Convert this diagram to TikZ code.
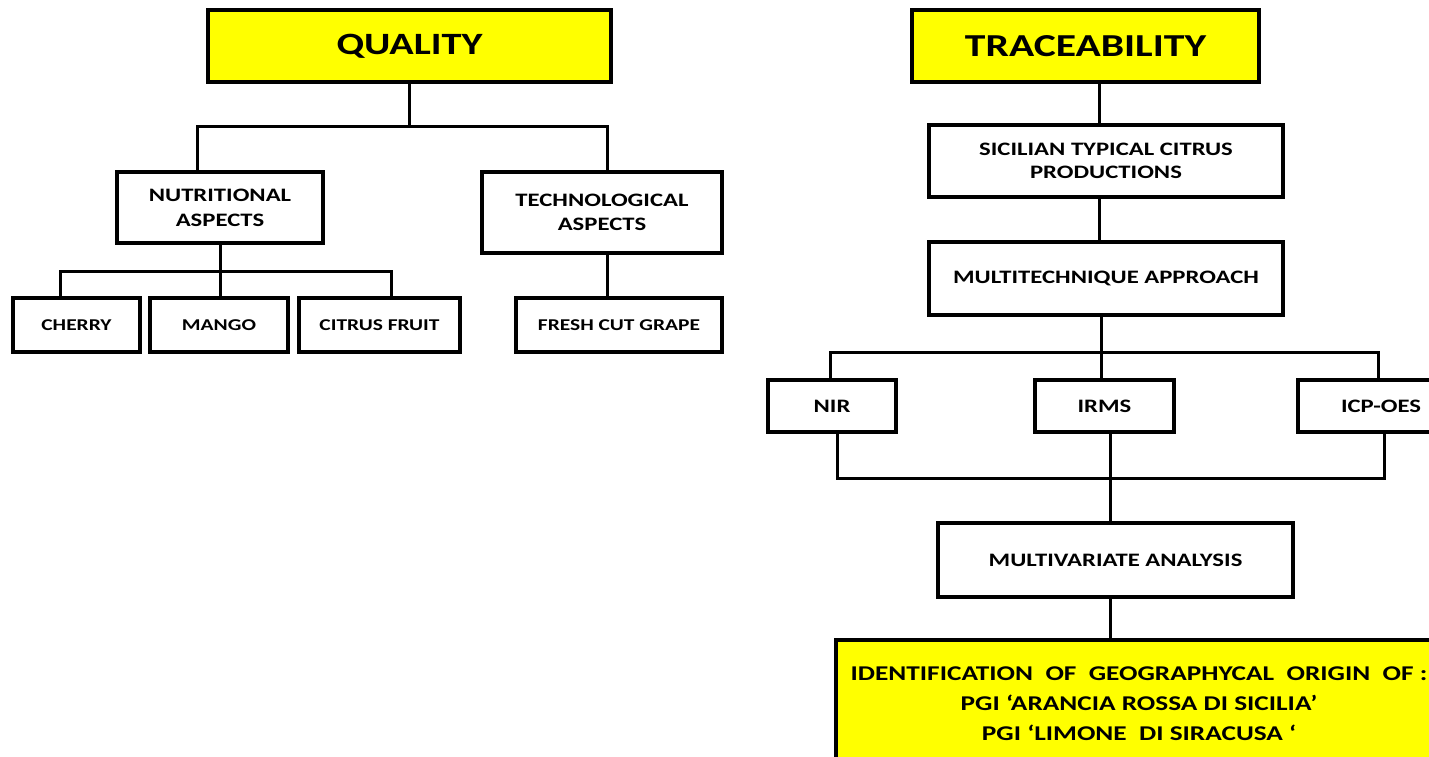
\documentclass[tikz,border=0pt]{standalone}
\usepackage{fontspec}
\setmainfont{Carlito}[FakeStretch=1.3]
\usepackage{tikz}
\usetikzlibrary{arrows,shapes}
\pgfdeclarelayer{background}
\pgfsetlayers{background,main}
\definecolor{titleyellow}{RGB}{255,255,0}
\tikzstyle{box}=[draw,line width=3.5pt,fill=white,inner sep=0pt,align=center,font=\bfseries\fontsize{19}{23}\selectfont]
\tikzstyle{leaf}=[box,font=\bfseries\fontsize{16.5}{20}\selectfont]
\tikzstyle{title}=[box,fill=titleyellow,font=\bfseries\fontsize{31}{34}\selectfont]
\tikzstyle{edge} = [draw,line width=3pt,-]

\begin{document}
\begin{tikzpicture}[x=1pt,y=-1pt]
    \clip (0,0) rectangle (1429,757);
    % Quality tree
    \node[title,minimum width=403pt,minimum height=72pt] (quality) at (409.5,46) {QUALITY};
    \node[box,minimum width=206pt,minimum height=71pt,font=\bfseries\fontsize{19}{25}\selectfont] (nutri) at (220,207.5) {NUTRITIONAL\\ASPECTS};
    \node[box,minimum width=240pt,minimum height=81pt,font=\bfseries\fontsize{19}{24}\selectfont] (techno) at (602,212.5) {TECHNOLOGICAL\\ASPECTS};
    \foreach \pos/\boxw/\name/\txt in {{(76.5,325)/127/cherry/CHERRY}, {(219,325)/138/mango/MANGO}, {(379.5,325)/161/citrus/CITRUS FRUIT}, {(619,325)/206/grape/FRESH CUT GRAPE}}
        \node[leaf,minimum width=\boxw pt,minimum height=54pt] (\name) at \pos {\txt};

    % Traceability tree
    \node[title,minimum width=347pt,minimum height=72pt,font=\bfseries\fontsize{32}{34}\selectfont] (trace) at (1085.5,46) {TRACEABILITY};
    \node[box,minimum width=354pt,minimum height=72pt] (sicily) at (1106,161) {SICILIAN TYPICAL CITRUS\\PRODUCTIONS};
    \node[box,minimum width=354pt,minimum height=73pt] (multi) at (1106,278.5) {MULTITECHNIQUE APPROACH};
    \foreach \pos/\boxw/\name/\txt in {{(832,406)/128/nir/NIR}, {(1104.5,406)/139/irms/IRMS}, {(1381,406)/166/icp/ICP-OES}}
        \node[box,minimum width=\boxw pt,minimum height=52pt] (\name) at \pos {\txt};
    \node[box,minimum width=355pt,minimum height=74pt] (mvar) at (1115.5,560) {MULTIVARIATE ANALYSIS};
    \node[title,minimum width=606pt,minimum height=128pt,font=\bfseries\fontsize{21}{30}\selectfont] (origin) at (1139,704)
        {IDENTIFICATION~ OF~ GEOGRAPHYCAL~ ORIGIN~ OF~:\\PGI ‘ARANCIA ROSSA DI SICILIA’\\PGI ‘LIMONE~ DI SIRACUSA~‘};

    % Bus coordinates
    \coordinate (qL) at (197,127);
    \coordinate (qR) at (607,127);
    \coordinate (nL) at (60,271);
    \coordinate (nR) at (391,271);
    \coordinate (mL) at (830,352);
    \coordinate (mR) at (1378,352);
    \coordinate (sL) at (837,478);
    \coordinate (sR) at (1384,478);

    % Connect boxes with edges
    \begin{pgfonlayer}{background}
    \path[edge] (quality.south) -- (quality.south |- qL);
    \path[edge] (nutri.north -| qL) |- (qR) -- (qR |- techno.north);
    \path[edge] (nutri.south) -- (nutri.south |- nL);
    \path[edge] (cherry.north -| nL) |- (nR) -- (nR |- citrus.north);
    \path[edge] (mango.north -| nutri.south) -- (nutri.south |- nL);
    \path[edge] (techno.south -| qR) -- (grape.north -| qR);
    \foreach \source/ \dest in {trace/sicily, sicily/multi}
        \path[edge] (\source.south -| 1099,0) -- (\dest.north -| 1099,0);
    \path[edge] (multi.south -| 1101,0) -- (1101,352);
    \path[edge] (nir.north -| mL) |- (mR) -- (mR |- icp.north);
    \path[edge] (irms.north -| 1101,0) -- (1101,352);
    \path[edge] (nir.south -| sL) |- (sR) -- (sR |- icp.south);
    \path[edge] (irms.south -| 1110,0) -- (mvar.north -| 1110,0);
    \path[edge] (mvar.south -| 1110,0) -- (origin.north -| 1110,0);
    \end{pgfonlayer}
\end{tikzpicture}
\end{document}
